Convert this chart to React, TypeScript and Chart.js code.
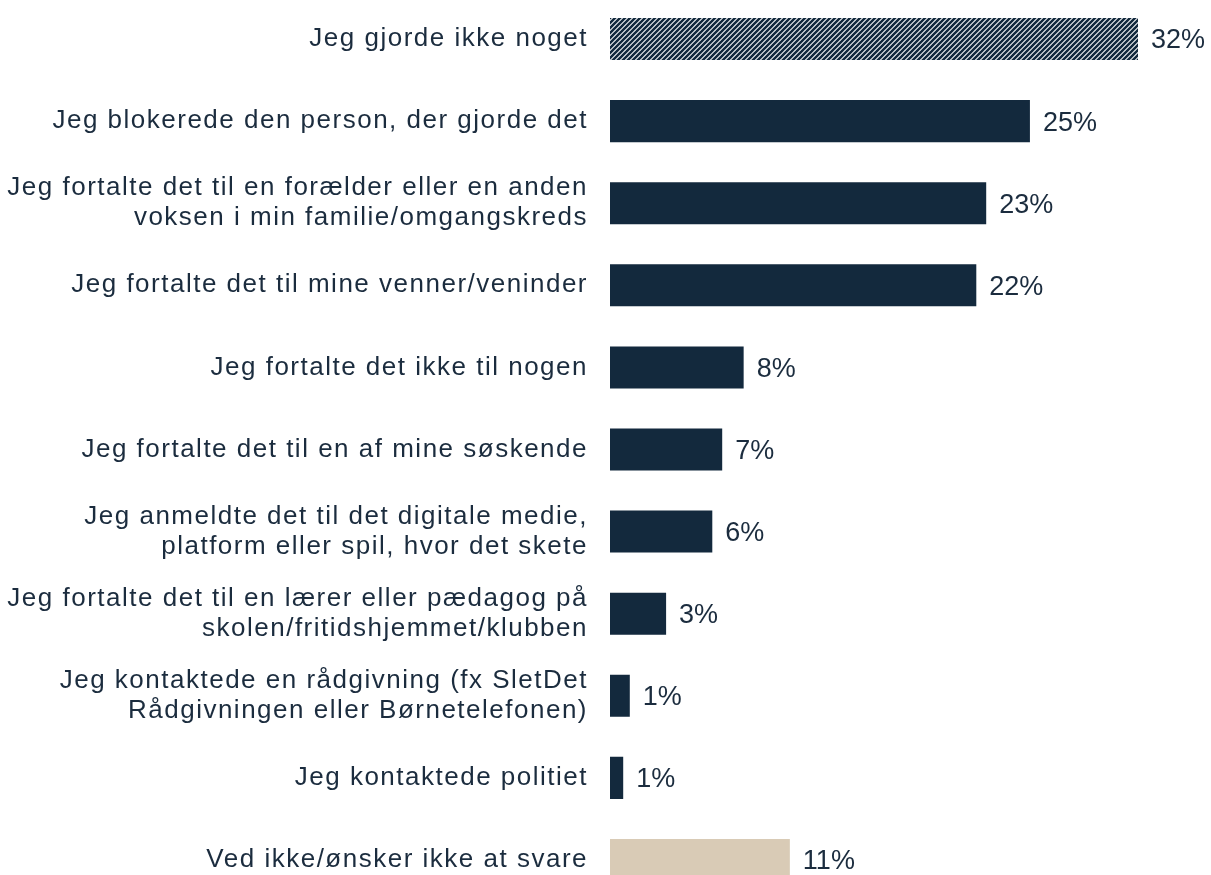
import React, { useEffect, useRef } from 'react';
import { Chart, registerables } from 'chart.js';

Chart.register(...registerables);

const categories: (string | string[])[] = [
  'Jeg gjorde ikke noget',
  'Jeg blokerede den person, der gjorde det',
  ['Jeg fortalte det til en forælder eller en anden', 'voksen i min familie/omgangskreds'],
  'Jeg fortalte det til mine venner/veninder',
  'Jeg fortalte det ikke til nogen',
  'Jeg fortalte det til en af mine søskende',
  ['Jeg anmeldte det til det digitale medie,', 'platform eller spil, hvor det skete'],
  ['Jeg fortalte det til en lærer eller pædagog på', 'skolen/fritidshjemmet/klubben'],
  ['Jeg kontaktede en rådgivning (fx SletDet', 'Rådgivningen eller Børnetelefonen)'],
  'Jeg kontaktede politiet',
  'Ved ikke/ønsker ikke at svare',
];

const values = [32.0, 25.45, 22.8, 22.2, 8.1, 6.8, 6.2, 3.4, 1.2, 0.8, 10.9];

const valueLabels = ['32%', '25%', '23%', '22%', '8%', '7%', '6%', '3%', '1%', '1%', '11%'];

const NAVY = '#13293d';
const BEIGE = '#d9cbb6';
const TEXT = '#1b2c3e';

function makeHatch(): CanvasPattern | string {
  const s = 5;
  const c = document.createElement('canvas');
  c.width = s;
  c.height = s;
  const g = c.getContext('2d');
  if (!g) return NAVY;
  g.fillStyle = '#ffffff';
  g.fillRect(0, 0, s, s);
  g.strokeStyle = NAVY;
  g.lineWidth = 2.6;
  g.beginPath();
  g.moveTo(0, s);
  g.lineTo(s, 0);
  g.moveTo(-1, 1);
  g.lineTo(1, -1);
  g.moveTo(s - 1, s + 1);
  g.lineTo(s + 1, s - 1);
  g.stroke();
  return g.createPattern(c, 'repeat') || NAVY;
}

export default function App() {
  const ref = useRef<HTMLCanvasElement | null>(null);

  useEffect(() => {
    if (!ref.current) return;
    const hatch = makeHatch();
    const colors = values.map((_, i) => (i === 0 ? hatch : i === values.length - 1 ? BEIGE : NAVY));

    const spacingPlugin = {
      id: 'spacing',
      beforeDraw(chart: any) {
        (chart.ctx as any).letterSpacing = '1.5px';
      },
      afterDraw(chart: any) {
        (chart.ctx as any).letterSpacing = '0px';
      },
    };

    const labelPlugin = {
      id: 'valueLabels',
      afterDatasetsDraw(chart: any) {
        const ctx = chart.ctx;
        ctx.save();
        (ctx as any).letterSpacing = '0px';
        ctx.font = '27px "Liberation Sans", Arial, sans-serif';
        ctx.fillStyle = TEXT;
        ctx.textAlign = 'left';
        ctx.textBaseline = 'middle';
        const meta = chart.getDatasetMeta(0);
        meta.data.forEach((bar: any, i: number) => {
          ctx.fillText(valueLabels[i], bar.x + 13, bar.y + 2);
        });
        ctx.restore();
      },
    };

    const chart = new Chart(ref.current, {
      type: 'bar',
      data: {
        labels: categories,
        datasets: [
          {
            data: values,
            backgroundColor: colors as any,
            borderWidth: 0,
            barPercentage: 0.512,
            categoryPercentage: 1,
          },
        ],
      },
      options: {
        indexAxis: 'y',
        animation: false,
        responsive: false,
        layout: { padding: { left: 0, right: 23.5, top: 0, bottom: 0 } },
        plugins: {
          legend: { display: false },
          tooltip: { enabled: false },
        },
        scales: {
          x: {
            display: false,
            min: 0,
            max: 35,
          },
          y: {
            grid: { display: false, drawTicks: false },
            border: { display: false },
            ticks: {
              color: TEXT,
              padding: 22,
              font: { family: '"Liberation Sans", Arial, sans-serif', size: 26, lineHeight: 1.15 },
            },
            afterFit: (scale: any) => {
              scale.width = 610;
              scale.paddingTop = 0;
              scale.paddingBottom = 0;
            },
          },
        },
      },
      plugins: [spacingPlugin, labelPlugin],
    });

    return () => chart.destroy();
  }, []);

  return (
    <div
      style={{
        position: 'fixed',
        left: 0,
        top: 0,
        width: 1211,
        height: 875,
        overflow: 'hidden',
        background: '#ffffff',
      }}
    >
      <div style={{ position: 'absolute', left: 0, top: -2, width: 1211, height: 903 }}>
        <canvas ref={ref} width={1211} height={903} style={{ display: 'block' }} />
      </div>
    </div>
  );
}
